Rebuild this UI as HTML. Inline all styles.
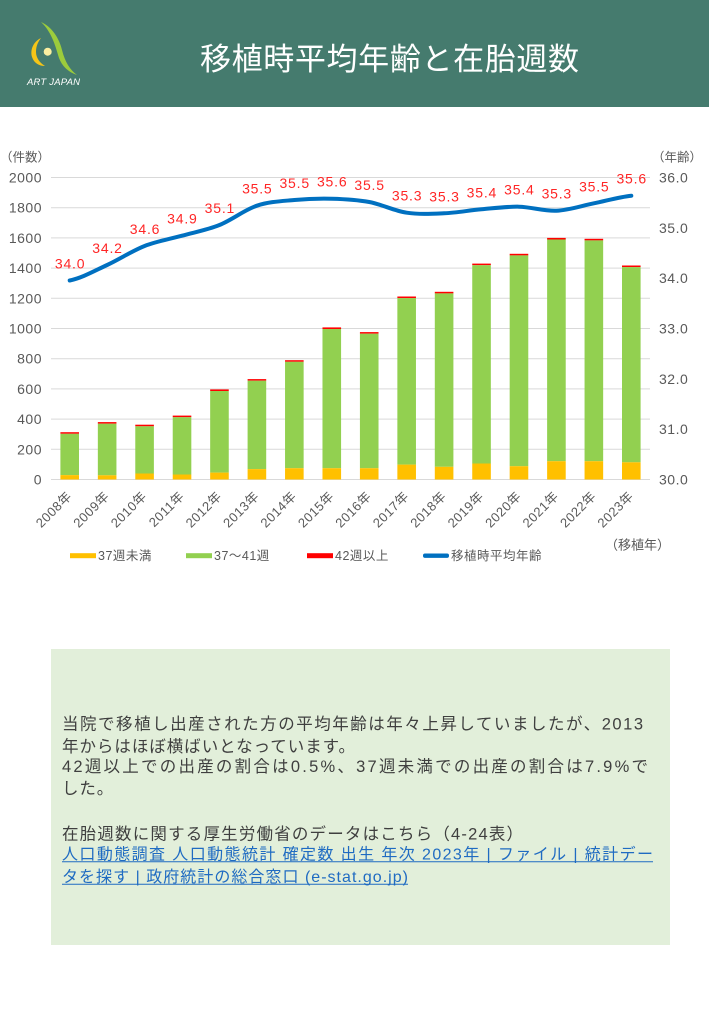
<!DOCTYPE html>
<html>
<head>
<meta charset="utf-8">
<style>
html,body{margin:0;padding:0;background:#fff;}
svg{display:block;}
text{font-family:"Liberation Sans","Noto Sans CJK JP",sans-serif;}
</style>
</head>
<body>
<svg width="709" height="1024" viewBox="0 0 709 1024" xmlns="http://www.w3.org/2000/svg">
<rect x="0" y="0" width="709" height="1024" fill="#ffffff"/>
<!-- Header -->
<rect x="0" y="0" width="709" height="107" fill="#457b6e"/>
<path d="M41,22 C52,27 59,38 62,50 C65,62 70,70 77,75 C68,72 62,66 59,58 C56,48 52,32 41,22 Z" fill="#9ccc3c"/>
<path d="M41,38 C33,42 30,50 32,57 C34,63 39,66 45,66 C40,63 36,58 36,52 C36,46 38,42 41,38 Z" fill="#f5c518"/>
<circle cx="47.7" cy="51.7" r="4" fill="#fbeea0"/>
<text x="27" y="85" font-size="9.5" font-style="italic" fill="#ffffff" textLength="53" lengthAdjust="spacing">ART JAPAN</text>
<text x="200" y="70" font-size="31" fill="#ffffff" textLength="379" lengthAdjust="spacing">移植時平均年齢と在胎週数</text>

<!-- Axis titles -->
<text x="0" y="161.5" font-size="12.5" fill="#595959">（件数）</text>
<text x="652" y="161.5" font-size="12.5" fill="#595959">（年齢）</text>

<!-- Gridlines -->
<g stroke="#d9d9d9" stroke-width="1">
<line x1="51" y1="177.5" x2="650" y2="177.5"/>
<line x1="51" y1="207.7" x2="650" y2="207.7"/>
<line x1="51" y1="227.8" x2="650" y2="227.8" stroke="none"/>
<line x1="51" y1="237.9" x2="650" y2="237.9"/>
<line x1="51" y1="268.1" x2="650" y2="268.1"/>
<line x1="51" y1="298.3" x2="650" y2="298.3"/>
<line x1="51" y1="328.5" x2="650" y2="328.5"/>
<line x1="51" y1="358.7" x2="650" y2="358.7"/>
<line x1="51" y1="388.9" x2="650" y2="388.9"/>
<line x1="51" y1="419.1" x2="650" y2="419.1"/>
<line x1="51" y1="449.3" x2="650" y2="449.3"/>
<line x1="51" y1="479.5" x2="650" y2="479.5"/>
</g>

<!-- Left ticks -->
<g font-size="14" fill="#595959" text-anchor="end" letter-spacing="0.5">
<text x="42" y="182.5">2000</text>
<text x="42" y="212.7">1800</text>
<text x="42" y="243">1600</text>
<text x="42" y="273.1">1400</text>
<text x="42" y="303.3">1200</text>
<text x="42" y="333.5">1000</text>
<text x="42" y="363.7">800</text>
<text x="42" y="393.9">600</text>
<text x="42" y="424.1">400</text>
<text x="42" y="454.3">200</text>
<text x="42" y="484.5">0</text>
</g>
<!-- Right ticks -->
<g font-size="14" fill="#595959" letter-spacing="0.5">
<text x="659" y="182.5">36.0</text>
<text x="659" y="232.8">35.0</text>
<text x="659" y="283.2">34.0</text>
<text x="659" y="333.5">33.0</text>
<text x="659" y="383.8">32.0</text>
<text x="659" y="434.2">31.0</text>
<text x="659" y="484.5">30.0</text>
</g>

<!-- Bars -->
<g>
<rect x="60.4" y="432.2" width="18.6" height="1.6" fill="#ff0000"/><rect x="60.4" y="433.8" width="18.6" height="41.3" fill="#92d050"/><rect x="60.4" y="475.1" width="18.6" height="4.4" fill="#ffc000"/>
<rect x="97.84" y="422.1" width="18.6" height="1.6" fill="#ff0000"/><rect x="97.84" y="423.7" width="18.6" height="51.6" fill="#92d050"/><rect x="97.84" y="475.3" width="18.6" height="4.2" fill="#ffc000"/>
<rect x="135.28" y="424.7" width="18.6" height="1.6" fill="#ff0000"/><rect x="135.28" y="426.3" width="18.6" height="47.2" fill="#92d050"/><rect x="135.28" y="473.5" width="18.6" height="6.0" fill="#ffc000"/>
<rect x="172.72" y="415.6" width="18.6" height="1.6" fill="#ff0000"/><rect x="172.72" y="417.2" width="18.6" height="57.3" fill="#92d050"/><rect x="172.72" y="474.5" width="18.6" height="5.0" fill="#ffc000"/>
<rect x="210.16" y="389.4" width="18.6" height="1.6" fill="#ff0000"/><rect x="210.16" y="391.0" width="18.6" height="81.6" fill="#92d050"/><rect x="210.16" y="472.6" width="18.6" height="6.9" fill="#ffc000"/>
<rect x="247.6" y="379.1" width="18.6" height="1.6" fill="#ff0000"/><rect x="247.6" y="380.7" width="18.6" height="88.4" fill="#92d050"/><rect x="247.6" y="469.1" width="18.6" height="10.4" fill="#ffc000"/>
<rect x="285.04" y="360.2" width="18.6" height="1.6" fill="#ff0000"/><rect x="285.04" y="361.8" width="18.6" height="106.4" fill="#92d050"/><rect x="285.04" y="468.2" width="18.6" height="11.3" fill="#ffc000"/>
<rect x="322.48" y="327.4" width="18.6" height="1.6" fill="#ff0000"/><rect x="322.48" y="329.0" width="18.6" height="139.2" fill="#92d050"/><rect x="322.48" y="468.2" width="18.6" height="11.3" fill="#ffc000"/>
<rect x="359.92" y="332.1" width="18.6" height="1.6" fill="#ff0000"/><rect x="359.92" y="333.7" width="18.6" height="134.5" fill="#92d050"/><rect x="359.92" y="468.2" width="18.6" height="11.3" fill="#ffc000"/>
<rect x="397.36" y="296.5" width="18.6" height="1.6" fill="#ff0000"/><rect x="397.36" y="298.1" width="18.6" height="166.5" fill="#92d050"/><rect x="397.36" y="464.6" width="18.6" height="14.9" fill="#ffc000"/>
<rect x="434.8" y="291.8" width="18.6" height="1.6" fill="#ff0000"/><rect x="434.8" y="293.4" width="18.6" height="173.4" fill="#92d050"/><rect x="434.8" y="466.8" width="18.6" height="12.7" fill="#ffc000"/>
<rect x="472.24" y="263.6" width="18.6" height="1.6" fill="#ff0000"/><rect x="472.24" y="265.2" width="18.6" height="198.3" fill="#92d050"/><rect x="472.24" y="463.5" width="18.6" height="16.0" fill="#ffc000"/>
<rect x="509.68" y="253.8" width="18.6" height="1.6" fill="#ff0000"/><rect x="509.68" y="255.4" width="18.6" height="210.8" fill="#92d050"/><rect x="509.68" y="466.2" width="18.6" height="13.3" fill="#ffc000"/>
<rect x="547.12" y="237.9" width="18.6" height="1.6" fill="#ff0000"/><rect x="547.12" y="239.5" width="18.6" height="221.7" fill="#92d050"/><rect x="547.12" y="461.2" width="18.6" height="18.3" fill="#ffc000"/>
<rect x="584.56" y="238.8" width="18.6" height="1.6" fill="#ff0000"/><rect x="584.56" y="240.4" width="18.6" height="220.8" fill="#92d050"/><rect x="584.56" y="461.2" width="18.6" height="18.3" fill="#ffc000"/>
<rect x="622.0" y="265.5" width="18.6" height="1.6" fill="#ff0000"/><rect x="622.0" y="267.1" width="18.6" height="195.2" fill="#92d050"/><rect x="622.0" y="462.3" width="18.6" height="17.2" fill="#ffc000"/>
</g>

<!-- Line -->
<path d="M69.7,280.5 C82.18,277.92 94.66,270.75 107.14,265 C119.62,259.25 132.1,250.88 144.58,246 C157.06,241.12 169.54,239.2 182.02,235.7 C194.5,232.2 206.98,230 219.46,225 C231.94,220 244.42,209.87 256.9,205.7 C269.38,201.53 281.86,201.17 294.34,200 C306.82,198.83 319.3,198.37 331.78,198.7 C344.26,199.03 356.74,199.67 369.22,202 C381.7,204.33 394.18,210.82 406.66,212.7 C419.14,214.58 431.62,213.87 444.1,213.3 C456.58,212.73 469.06,210.4 481.54,209.3 C494.02,208.2 506.5,206.47 518.98,206.7 C531.46,206.93 543.94,211.27 556.42,210.7 C568.9,210.13 581.38,205.8 593.86,203.3 C606.34,200.8 618.82,196.97 631.3,195.7" fill="none" stroke="#0070c0" stroke-width="4" stroke-linecap="round" stroke-linejoin="round"/>

<!-- Data labels -->
<g font-size="14" fill="#ff2626" text-anchor="middle" letter-spacing="0.8">
<text x="70.1" y="268.5">34.0</text>
<text x="107.5" y="253">34.2</text>
<text x="145" y="234">34.6</text>
<text x="182.4" y="223.7">34.9</text>
<text x="219.9" y="213">35.1</text>
<text x="257.3" y="193.7">35.5</text>
<text x="294.7" y="188">35.5</text>
<text x="332.2" y="186.7">35.6</text>
<text x="369.6" y="190">35.5</text>
<text x="407.1" y="200.7">35.3</text>
<text x="444.5" y="201.3">35.3</text>
<text x="481.9" y="197.3">35.4</text>
<text x="519.4" y="194.7">35.4</text>
<text x="556.8" y="198.7">35.3</text>
<text x="594.3" y="191.3">35.5</text>
<text x="631.7" y="183.7">35.6</text>
</g>

<!-- X labels -->
<g font-size="13" fill="#595959" text-anchor="end" letter-spacing="0.5">
<text transform="translate(72.7,497) rotate(-45)">2008年</text>
<text transform="translate(110.1,497) rotate(-45)">2009年</text>
<text transform="translate(147.6,497) rotate(-45)">2010年</text>
<text transform="translate(185,497) rotate(-45)">2011年</text>
<text transform="translate(222.5,497) rotate(-45)">2012年</text>
<text transform="translate(259.9,497) rotate(-45)">2013年</text>
<text transform="translate(297.3,497) rotate(-45)">2014年</text>
<text transform="translate(334.8,497) rotate(-45)">2015年</text>
<text transform="translate(372.2,497) rotate(-45)">2016年</text>
<text transform="translate(409.7,497) rotate(-45)">2017年</text>
<text transform="translate(447.1,497) rotate(-45)">2018年</text>
<text transform="translate(484.5,497) rotate(-45)">2019年</text>
<text transform="translate(522,497) rotate(-45)">2020年</text>
<text transform="translate(559.4,497) rotate(-45)">2021年</text>
<text transform="translate(596.9,497) rotate(-45)">2022年</text>
<text transform="translate(634.3,497) rotate(-45)">2023年</text>
</g>

<text x="605" y="549.5" font-size="13" fill="#595959">（移植年）</text>

<!-- Legend -->
<rect x="70" y="553.2" width="26" height="5" fill="#ffc000"/>
<text x="98" y="560" font-size="12.5" fill="#595959" letter-spacing="0.5">37週未満</text>
<rect x="186" y="553.2" width="26" height="5" fill="#92d050"/>
<text x="214" y="560" font-size="12.5" fill="#595959" letter-spacing="0.5">37～41週</text>
<rect x="307" y="553.2" width="26" height="5" fill="#ff0000"/>
<text x="335" y="560" font-size="12.5" fill="#595959" letter-spacing="0.5">42週以上</text>
<rect x="423" y="553.5" width="26" height="4.4" rx="2" fill="#0070c0"/>
<text x="451" y="560" font-size="12.5" fill="#595959" letter-spacing="0.5">移植時平均年齢</text>

<!-- Text box -->
<rect x="51" y="649" width="619" height="296" fill="#e2efda"/>
<g font-size="16.5" fill="#3f3f3f">
<text x="62" y="729.5" textLength="581" lengthAdjust="spacing">当院で移植し出産された方の平均年齢は年々上昇していましたが、2013</text>
<text x="62" y="752" textLength="293" lengthAdjust="spacing">年からはほぼ横ばいとなっています。</text>
<text x="62" y="772" textLength="586" lengthAdjust="spacing">42週以上での出産の割合は0.5%、37週未満での出産の割合は7.9%で</text>
<text x="62" y="794" letter-spacing="0.9">した。</text>
<text x="62" y="839.5" textLength="461" lengthAdjust="spacing">在胎週数に関する厚生労働省のデータはこちら（4-24表）</text>
</g>
<g font-size="16" fill="#1f6bc2">
<text x="62" y="859.5" textLength="591" lengthAdjust="spacing">人口動態調査 人口動態統計 確定数 出生 年次 2023年 | ファイル | 統計デー</text>
<text x="62" y="882" textLength="346" lengthAdjust="spacing">タを探す | 政府統計の総合窓口 (e-stat.go.jp)</text>
</g>
<line x1="62" y1="861.8" x2="653" y2="861.8" stroke="#1f6bc2" stroke-width="1"/>
<line x1="62" y1="884.3" x2="408" y2="884.3" stroke="#1f6bc2" stroke-width="1"/>
</svg>
</body>
</html>
